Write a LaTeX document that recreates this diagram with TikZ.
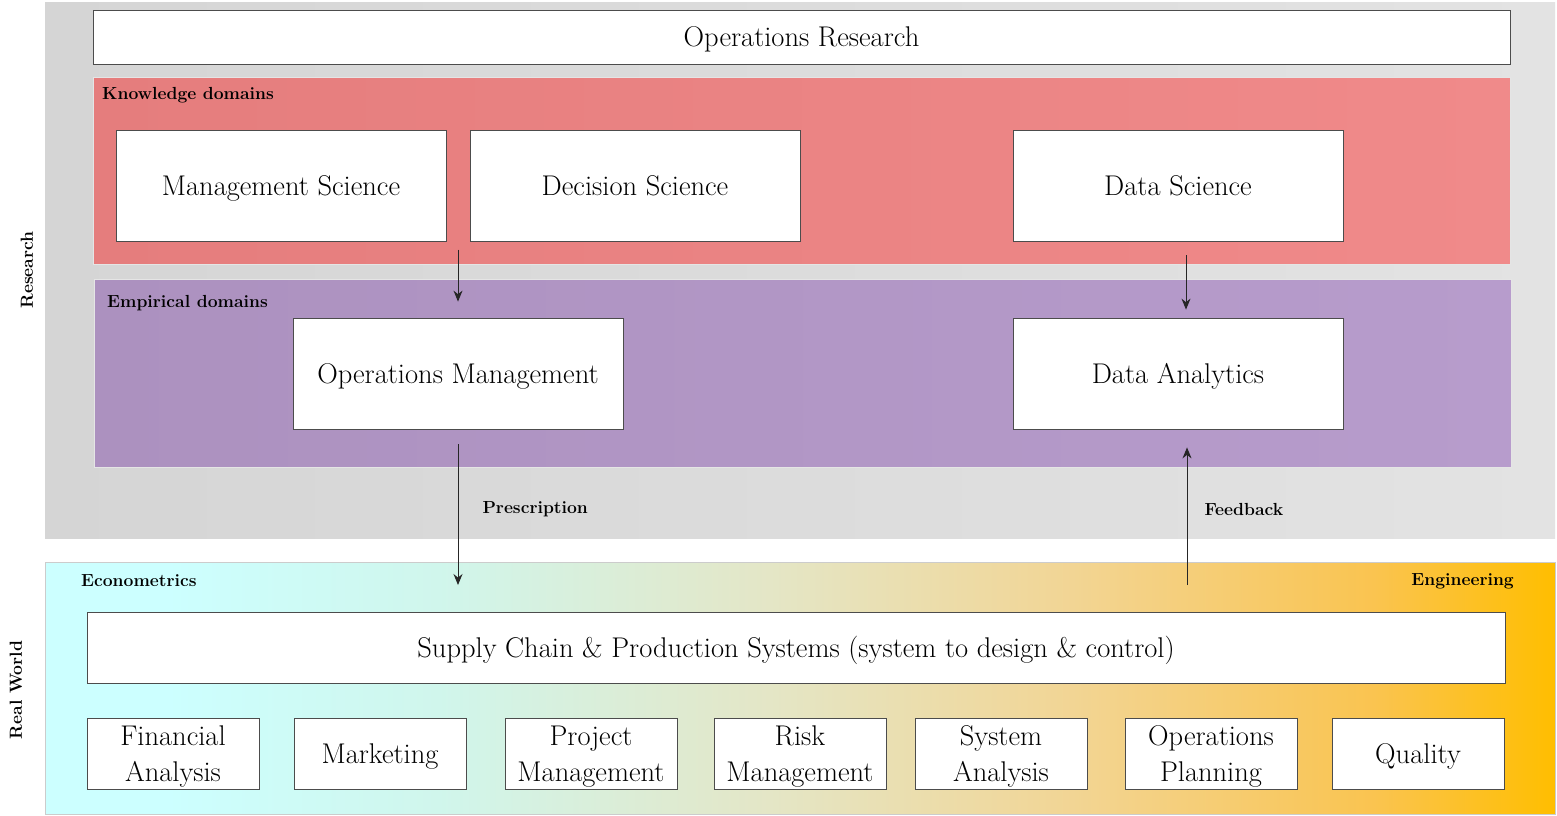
\documentclass[tikz,border=0pt]{standalone}
\usepackage{tikz}
\usetikzlibrary{arrows.meta, calc}

\definecolor{resL}{RGB}{213,213,213}
\definecolor{resR}{RGB}{227,227,227}
\definecolor{knowL}{RGB}{229,125,125}
\definecolor{knowR}{RGB}{240,138,138}
\definecolor{empL}{RGB}{172,145,191}
\definecolor{empR}{RGB}{183,156,204}
\definecolor{rwA}{RGB}{204,255,255}
\definecolor{rwB}{RGB}{208,246,236}
\definecolor{rwC}{RGB}{228,230,198}
\definecolor{rwD}{RGB}{242,213,148}
\definecolor{rwE}{RGB}{250,196,80}
\definecolor{rwF}{RGB}{255,190,0}

% the path covers 25bp--75bp of the shading
\pgfdeclarehorizontalshading{realworld}{100bp}{color(0bp)=(rwA); color(29bp)=(rwA);
  color(38bp)=(rwB); color(49bp)=(rwC); color(59bp)=(rwD); color(69bp)=(rwE);
  color(75bp)=(rwF); color(100bp)=(rwF)}

\begin{document}
\begin{tikzpicture}[x=1pt, y=-1pt,
    box/.style={rectangle, draw=black!70, line width=0.8pt, fill=white, inner sep=0pt,
      minimum width=330pt, minimum height=111pt, align=center,
      font=\fontsize{28.5}{36}\selectfont},
    one/.style={text height=24pt, text depth=5pt},
    two/.style={text height=60pt, text depth=5pt},
    small/.style={box, minimum width=172pt, minimum height=71pt},
    tag/.style={font=\fontsize{17.5}{20}\selectfont\bfseries, inner sep=0pt},
    flow/.style={draw=black!85, line width=1pt, -{Stealth[length=11pt,width=9pt]}}]

      \useasboundingbox (0,0) rectangle (1557,815);

      % backgrounds
      \shade[left color=resL, right color=resR] (45,2) rectangle (1555,538);
      \shade[left color=knowL, right color=knowR, draw=black!10] (93,77) rectangle (1510,264);
      \shade[left color=empL, right color=empR, draw=black!10] (94,279) rectangle (1511,467);
      \path[shading=realworld, draw=black!20] (45,562) rectangle (1555,814);

      \node[tag, rotate=90] (research) at (27,270) {Research};
      \node[tag, rotate=90] (realworld) at (16,690) {Real World};
      \node[tag, anchor=west] (knowledge) at (102,95) {Knowledge domains};
      \node[tag, anchor=west] (empirical) at (107,303) {Empirical domains};
      \node[tag, anchor=west] (econ) at (81,581) {Econometrics};
      \node[tag, anchor=east] (eng) at (1514,581) {Engineering};

      % research side
      \node[box, one, minimum width=1417pt, minimum height=54pt] (opres) at (801.5,37) {Operations Research};
      \node[box, one] (mgmt) at (281,185.5) {Management Science};
      \node[box, one] (dec) at (635,185.5) {Decision Science};
      \node[box, one] (datasci) at (1178,185.5) {Data Science};
      \node[box, one] (opmgmt) at (458,373.5) {Operations Management};
      \node[box, one] (dataan) at (1178,373.5) {Data Analytics};

      % real world side
      \node[box, one, minimum width=1418pt, minimum height=71pt] (scps) at (796,647.5)
        {Supply Chain \& Production Systems (system to design \& control)};
      \node[small, two] (fin) at (173,753.5) {Financial\\Analysis};
      \node[small, one] (mkt) at (380,753.5) {Marketing};
      \node[small, two] (proj) at (591,753.5) {Project\\Management};
      \node[small, two] (risk) at (800,753.5) {Risk\\Management};
      \node[small, two] (sys) at (1001,753.5) {System\\Analysis};
      \node[small, two] (opplan) at (1211,753.5) {Operations\\Planning};
      \node[small, one] (qual) at (1418,753.5) {Quality};

      % connectors
      \coordinate (prescend) at (458,585);
      \coordinate (fbstart) at (1187,585);
      \draw[flow] ([yshift=68pt]opmgmt.north) -- ([yshift=16pt]opmgmt.north);
      \draw[flow] ([xshift=8pt, yshift=-14pt]datasci.south) -- ([xshift=8pt, yshift=8pt]dataan.north);
      \draw[flow] ([yshift=-15pt]opmgmt.south) -- (prescend)
        node[tag, pos=0.46, anchor=west, xshift=24pt] (presc) {Prescription};
      \draw[flow] (fbstart) -- ([xshift=9pt, yshift=-18pt]dataan.south)
        node[tag, pos=0.55, anchor=west, xshift=17pt] (fb) {Feedback};

\end{tikzpicture}
\end{document}
